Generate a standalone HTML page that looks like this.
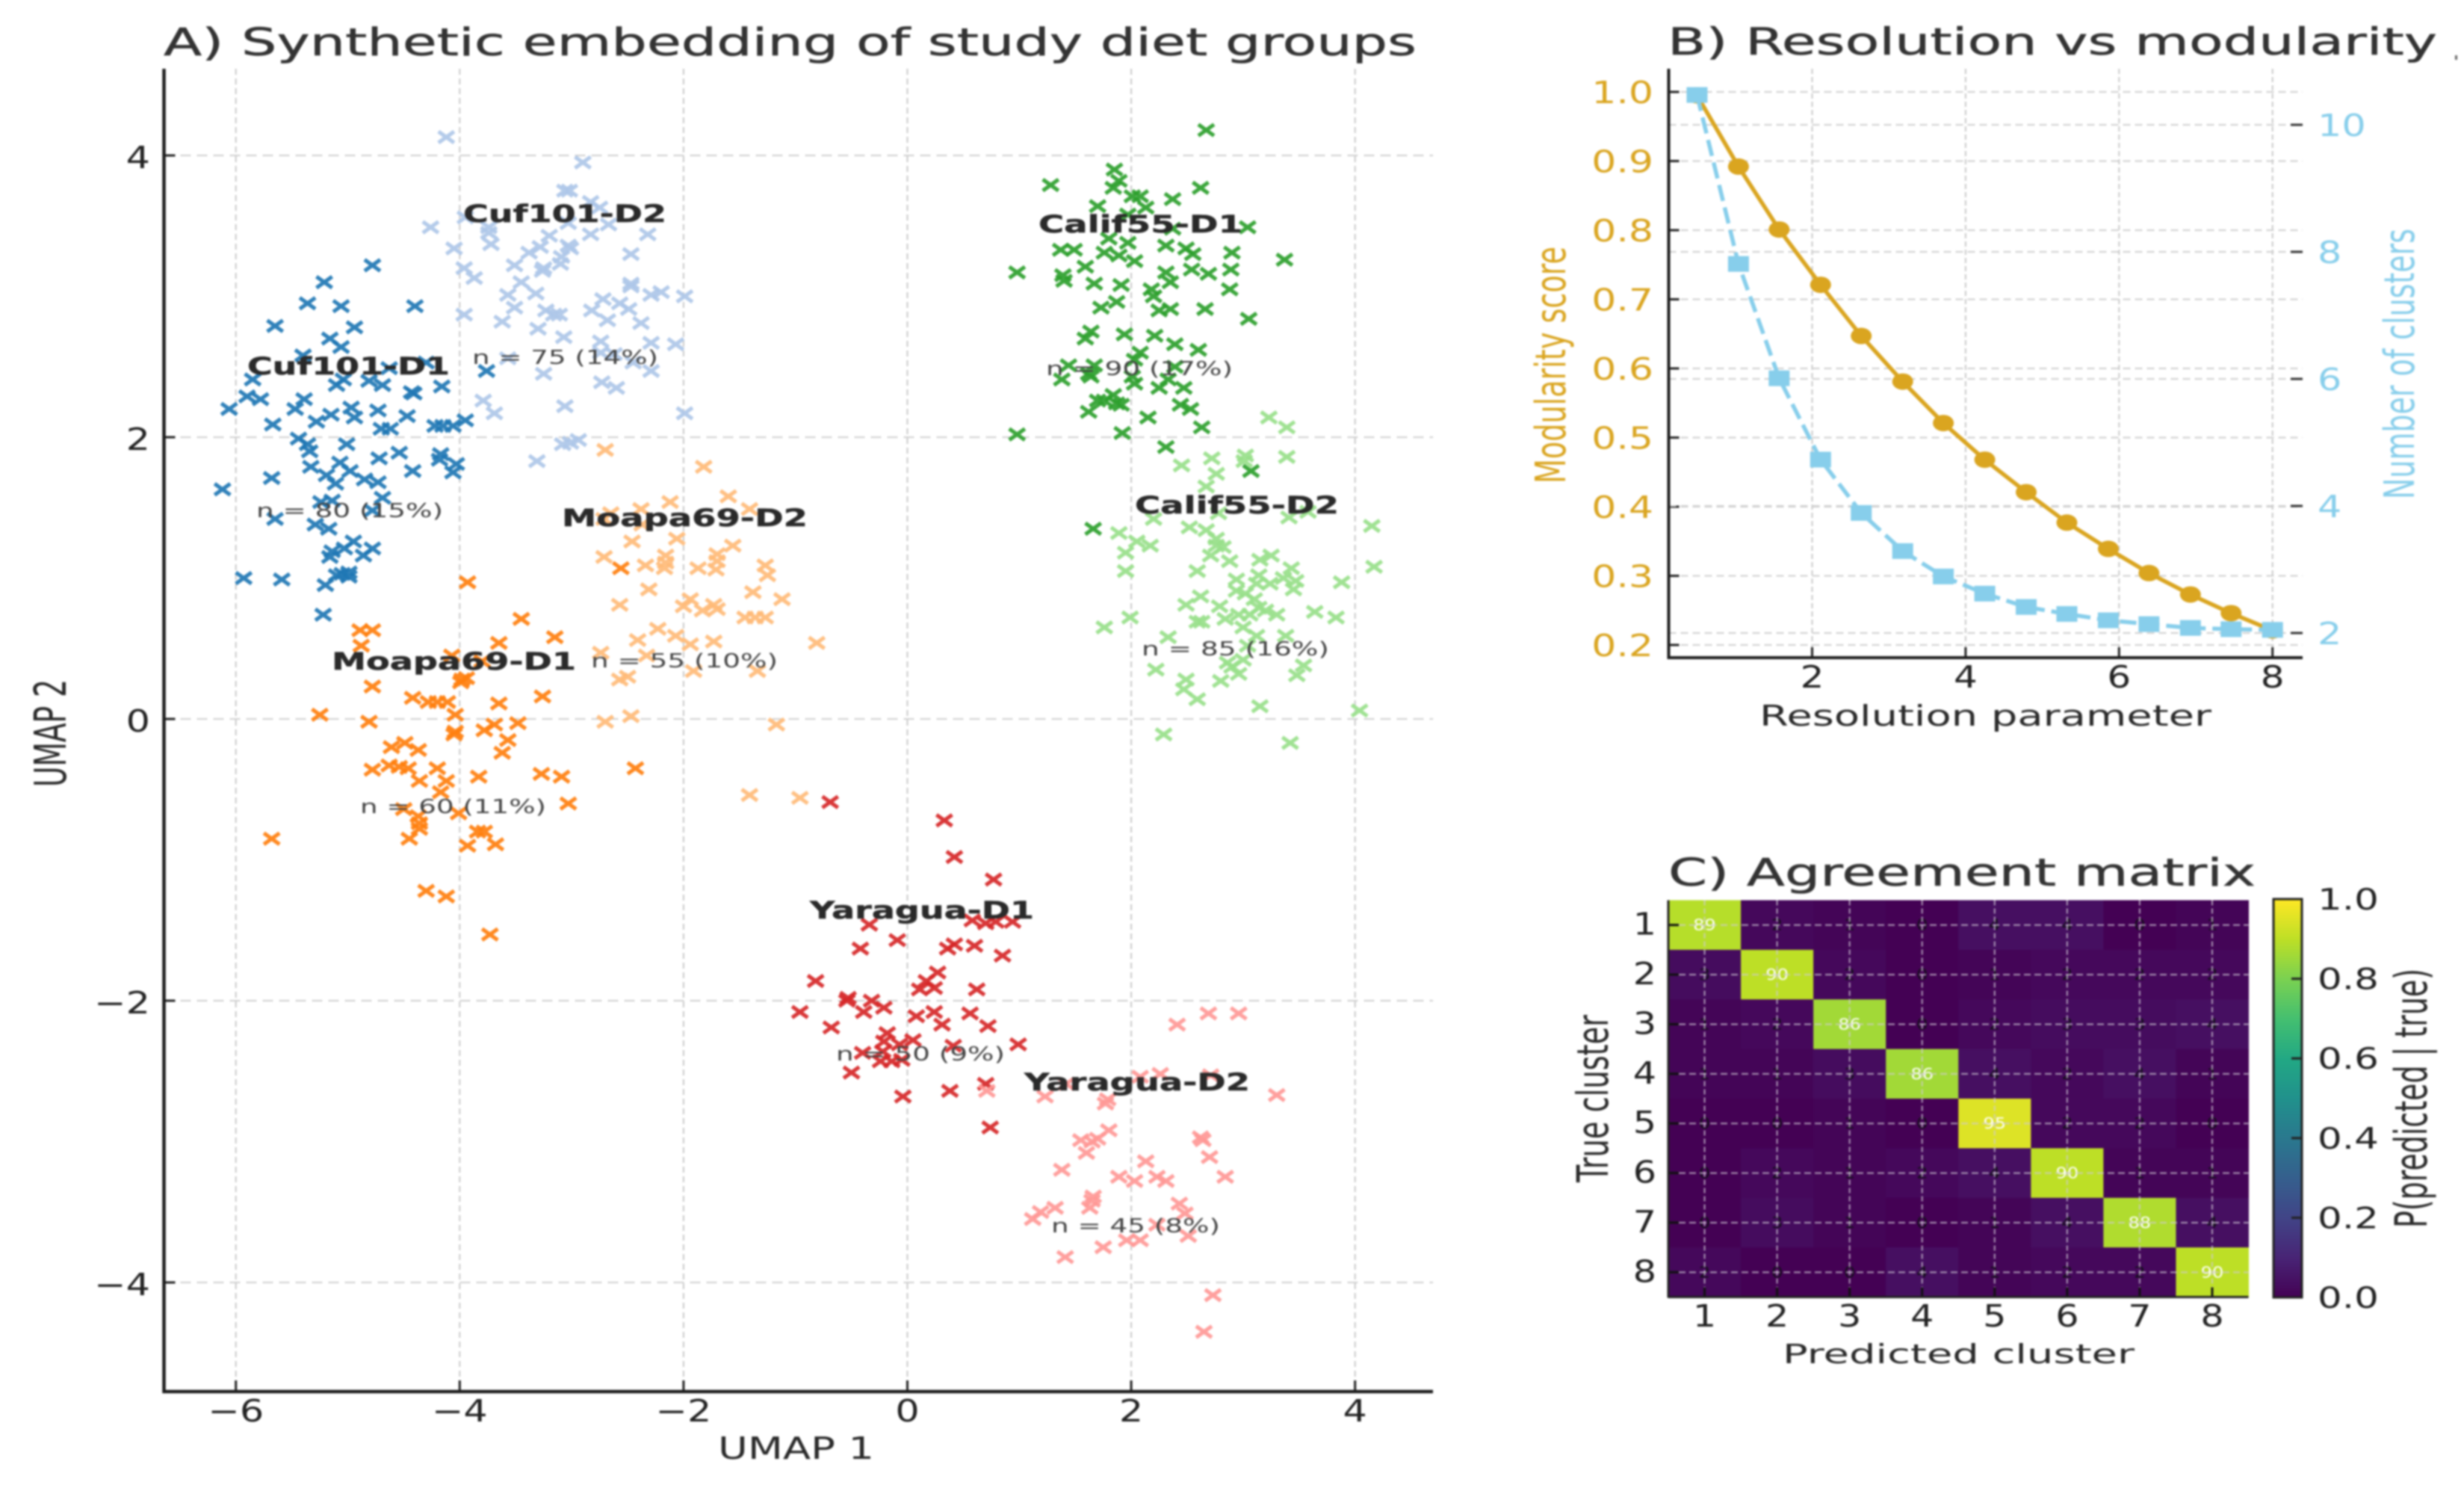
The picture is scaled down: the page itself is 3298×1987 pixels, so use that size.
<!DOCTYPE html>
<html lang="en">
<head>
<meta charset="utf-8">
<title>Synthetic embedding, modularity and agreement panels</title>
<style>
html,body{margin:0;padding:0;background:#fff;width:3298px;height:1987px;overflow:hidden}
svg{display:block;filter:blur(1.2px)}
text{font-family:"DejaVu Sans","Liberation Sans",sans-serif}
</style>
</head>
<body>
<svg id="figure" xmlns="http://www.w3.org/2000/svg" width="3298" height="1987" viewBox="0 0 3298 1987">
  <rect x="0" y="0" width="3298" height="1987" fill="#fff"/>

  <g id="panelA"></g>
  <g id="panelB"></g>
  <g id="panelC"></g>

  <text x="219" y="74" font-size="51" fill="#333" stroke="#333" stroke-width="0.5" textLength="1677" lengthAdjust="spacingAndGlyphs">A) Synthetic embedding of study diet groups</text>
  <text x="961" y="1952" font-size="41" fill="#2a2a2a" textLength="209" lengthAdjust="spacingAndGlyphs">UMAP 1</text>
  <text transform="translate(88,1053) rotate(-90)" font-size="59" fill="#2a2a2a" textLength="144" lengthAdjust="spacingAndGlyphs">UMAP 2</text>

  <g font-weight="700" font-size="32" fill="#2a2a2a" stroke="#2a2a2a" stroke-width="0.5">
    <text x="331" y="501" textLength="271" lengthAdjust="spacingAndGlyphs">Cuf101-D1</text>
    <text x="620" y="297" textLength="272" lengthAdjust="spacingAndGlyphs">Cuf101-D2</text>
    <text x="444" y="896" textLength="327" lengthAdjust="spacingAndGlyphs">Moapa69-D1</text>
    <text x="752" y="704" textLength="329" lengthAdjust="spacingAndGlyphs">Moapa69-D2</text>
    <text x="1390" y="311" textLength="273" lengthAdjust="spacingAndGlyphs">Calif55-D1</text>
    <text x="1519" y="687" textLength="273" lengthAdjust="spacingAndGlyphs">Calif55-D2</text>
    <text x="1084" y="1229" textLength="300" lengthAdjust="spacingAndGlyphs">Yaragua-D1</text>
    <text x="1371" y="1459" textLength="302" lengthAdjust="spacingAndGlyphs">Yaragua-D2</text>
  </g>
  <g font-size="26" fill="#444">
    <text x="343" y="692" textLength="250" lengthAdjust="spacingAndGlyphs">n = 80 (15%)</text>
    <text x="632" y="487" textLength="249" lengthAdjust="spacingAndGlyphs">n = 75 (14%)</text>
    <text x="482" y="1088" textLength="249" lengthAdjust="spacingAndGlyphs">n = 60 (11%)</text>
    <text x="791" y="893" textLength="250" lengthAdjust="spacingAndGlyphs">n = 55 (10%)</text>
    <text x="1400" y="502" textLength="250" lengthAdjust="spacingAndGlyphs">n = 90 (17%)</text>
    <text x="1528" y="877" textLength="251" lengthAdjust="spacingAndGlyphs">n = 85 (16%)</text>
    <text x="1119" y="1419" textLength="226" lengthAdjust="spacingAndGlyphs">n = 50 (9%)</text>
    <text x="1407" y="1649" textLength="226" lengthAdjust="spacingAndGlyphs">n = 45 (8%)</text>
  </g>

  <text x="2232" y="73" font-size="50" fill="#333" stroke="#333" stroke-width="0.5" textLength="1030" lengthAdjust="spacingAndGlyphs">B) Resolution vs modularity</text>
  <rect x="3286" y="74" width="3" height="6" fill="#666"/>
  <text x="2355" y="971" font-size="38" fill="#2a2a2a" textLength="605" lengthAdjust="spacingAndGlyphs">Resolution parameter</text>
  <text transform="translate(2095,647) rotate(-90)" font-size="56" fill="#DAA520" textLength="317" lengthAdjust="spacingAndGlyphs">Modularity score</text>
  <text transform="translate(3231,668) rotate(-90)" font-size="56" fill="#87CEEB" textLength="362" lengthAdjust="spacingAndGlyphs">Number of clusters</text>

  <text x="2233" y="1185" font-size="51" fill="#333" stroke="#333" stroke-width="0.5" textLength="786" lengthAdjust="spacingAndGlyphs">C) Agreement matrix</text>
  <text x="2386" y="1824" font-size="36" fill="#2a2a2a" textLength="471" lengthAdjust="spacingAndGlyphs">Predicted cluster</text>
  <text transform="translate(2152,1582) rotate(-90)" font-size="58" fill="#2a2a2a" textLength="224" lengthAdjust="spacingAndGlyphs">True cluster</text>
  <text transform="translate(3248,1643) rotate(-90)" font-size="60" fill="#2a2a2a" textLength="347" lengthAdjust="spacingAndGlyphs">P(predicted | true)</text>
</svg>

<script>
// ---------- Panel A data (UMAP 1, UMAP 2) ----------
const cuf101D1 = [[-4.78,3.22],[-5.21,3.10],[-5.36,2.95],[-5.06,2.93],[-4.40,2.93],[-5.65,2.79],[-4.94,2.78],[-5.16,2.70],[-5.06,2.64],[-5.40,2.58],[-4.30,2.53],[-5.85,2.41],[-5.04,2.41],[-5.10,2.37],[-4.81,2.40],[-4.69,2.37],[-4.63,2.49],[-4.43,2.32],[-4.41,2.31],[-4.16,2.36],[-3.76,2.47],[-5.90,2.29],[-5.78,2.27],[-6.06,2.20],[-5.39,2.27],[-5.47,2.20],[-4.97,2.21],[-4.73,2.19],[-5.15,2.16],[-4.94,2.14],[-4.47,2.15],[-5.28,2.11],[-5.67,2.09],[-3.95,2.12],[-4.22,2.08],[-4.15,2.08],[-4.06,2.08],[-4.70,2.06],[-4.62,2.06],[-5.44,1.99],[-5.36,1.95],[-5.01,1.95],[-5.34,1.90],[-4.54,1.89],[-4.17,1.88],[-4.18,1.84],[-4.72,1.85],[-5.33,1.79],[-5.07,1.82],[-4.03,1.81],[-4.98,1.76],[-4.42,1.76],[-4.06,1.75],[-5.19,1.73],[-4.85,1.70],[-5.68,1.71],[-4.73,1.68],[-5.11,1.67],[-6.12,1.63],[-4.69,1.57],[-5.24,1.54],[-5.14,1.55],[-4.78,1.48],[-5.65,1.42],[-5.29,1.38],[-5.17,1.35],[-4.95,1.26],[-4.78,1.21],[-5.14,1.19],[-5.03,1.21],[-5.16,1.15],[-4.86,1.16],[-5.10,1.02],[-4.99,1.04],[-4.99,1.01],[-5.05,1.03],[-5.93,1.00],[-5.59,0.99],[-5.20,0.95],[-5.22,0.74]];
const cuf101D2 = [[-4.12,4.13],[-2.90,3.95],[-3.02,3.75],[-3.06,3.75],[-2.83,3.67],[-2.75,3.63],[-4.26,3.49],[-3.95,3.56],[-3.03,3.52],[-2.67,3.51],[-3.74,3.49],[-3.74,3.45],[-3.72,3.37],[-2.83,3.44],[-3.20,3.43],[-2.32,3.44],[-3.03,3.36],[-3.28,3.35],[-3.38,3.31],[-3.09,3.28],[-2.47,3.30],[-4.05,3.34],[-3.51,3.22],[-3.10,3.23],[-3.26,3.18],[-3.96,3.20],[-3.87,3.13],[-3.45,3.10],[-2.47,3.07],[-3.57,3.01],[-3.32,3.02],[-2.72,2.98],[-2.29,3.01],[-2.20,3.03],[-1.99,3.00],[-3.96,2.87],[-3.51,2.92],[-2.57,2.95],[-2.49,2.91],[-2.82,2.90],[-3.23,2.90],[-3.11,2.87],[-3.62,2.82],[-2.68,2.83],[-2.38,2.81],[-3.30,2.77],[-3.07,2.71],[-2.74,2.68],[-2.29,2.67],[-2.07,2.66],[-2.74,2.60],[-2.62,2.59],[-3.57,2.56],[-2.45,2.53],[-3.25,2.45],[-2.29,2.47],[-2.73,2.39],[-2.60,2.35],[-3.79,2.26],[-3.69,2.17],[-3.06,2.22],[-1.99,2.17],[-3.08,1.95],[-2.94,1.98],[-3.01,1.96],[-3.31,1.83],[-3.01,3.34],[-3.25,3.20],[-2.47,3.09],[-3.16,2.87]];
const moapa69D1 = [[-3.93,0.97],[-3.45,0.71],[-4.89,0.63],[-4.78,0.63],[-3.15,0.58],[-4.88,0.52],[-3.65,0.54],[-4.07,0.45],[-3.80,0.41],[-3.98,0.28],[-3.99,0.26],[-3.94,0.29],[-4.78,0.23],[-4.42,0.15],[-3.26,0.16],[-4.28,0.12],[-4.20,0.12],[-4.11,0.12],[-3.65,0.11],[-4.04,0.03],[-5.25,0.03],[-4.81,-0.02],[-3.48,-0.03],[-3.69,-0.04],[-3.78,-0.08],[-4.04,-0.09],[-4.05,-0.11],[-3.57,-0.15],[-4.49,-0.17],[-4.61,-0.20],[-4.37,-0.22],[-3.62,-0.24],[-2.56,1.07],[-2.43,-0.35],[-4.63,-0.33],[-4.54,-0.34],[-4.46,-0.35],[-4.20,-0.35],[-4.78,-0.36],[-3.83,-0.41],[-4.36,-0.44],[-4.12,-0.44],[-3.27,-0.39],[-3.09,-0.41],[-4.17,-0.52],[-3.03,-0.60],[-4.01,-0.67],[-4.50,-0.64],[-4.37,-0.69],[-4.36,-0.74],[-4.36,-0.78],[-5.68,-0.85],[-4.45,-0.85],[-3.84,-0.80],[-3.78,-0.80],[-3.93,-0.90],[-3.68,-0.89],[-4.30,-1.22],[-4.12,-1.26],[-3.73,-1.53]];
const moapa69D2 = [[-2.70,1.91],[-1.82,1.79],[-1.60,1.58],[-2.12,1.54],[-2.38,1.49],[-2.65,1.46],[-1.41,1.49],[-2.71,1.42],[-2.37,1.38],[-2.46,1.26],[-2.06,1.28],[-1.56,1.23],[-1.70,1.17],[-2.71,1.15],[-2.16,1.16],[-2.34,1.09],[-2.16,1.11],[-2.17,1.07],[-1.87,1.07],[-1.71,1.06],[-1.70,1.12],[-1.27,1.09],[-1.25,1.02],[-2.31,0.92],[-1.38,0.90],[-1.12,0.85],[-2.57,0.81],[-1.94,0.85],[-2.00,0.80],[-1.83,0.77],[-1.73,0.81],[-1.70,0.78],[-1.45,0.72],[-1.36,0.72],[-1.27,0.72],[-2.23,0.64],[-2.41,0.56],[-2.07,0.59],[-1.94,0.53],[-1.73,0.55],[-0.81,0.54],[-2.74,0.47],[-2.33,0.45],[-1.91,0.34],[-1.34,0.34],[-2.50,0.30],[-2.57,0.28],[-2.70,-0.02],[-2.47,0.02],[-1.17,-0.04],[-1.41,-0.54],[-0.96,-0.56]];
const calif55D1 = [[2.67,4.18],[1.85,3.90],[1.89,3.82],[1.28,3.79],[1.84,3.77],[2.62,3.77],[2.37,3.69],[2.01,3.71],[2.08,3.71],[1.70,3.64],[2.13,3.63],[1.97,3.58],[3.04,3.49],[2.37,3.48],[1.80,3.41],[2.31,3.36],[1.97,3.38],[2.49,3.34],[2.55,3.30],[1.37,3.33],[1.49,3.33],[1.76,3.31],[1.89,3.29],[2.03,3.25],[2.90,3.31],[3.37,3.26],[0.98,3.17],[1.59,3.21],[2.31,3.17],[2.54,3.19],[2.89,3.19],[2.69,3.16],[1.39,3.15],[1.40,3.11],[1.67,3.09],[1.91,3.08],[2.35,3.10],[2.88,3.05],[2.18,3.05],[2.20,3.00],[1.73,2.92],[1.87,2.96],[2.25,2.90],[2.35,2.91],[2.66,2.91],[3.05,2.84],[1.64,2.75],[1.59,2.70],[1.94,2.73],[2.21,2.72],[2.39,2.66],[2.60,2.62],[2.08,2.60],[2.03,2.55],[1.44,2.51],[1.67,2.51],[1.62,2.45],[1.38,2.41],[2.39,2.50],[2.33,2.41],[2.03,2.38],[2.25,2.35],[2.47,2.35],[1.84,2.30],[1.70,2.26],[1.91,2.23],[2.44,2.23],[2.53,2.20],[1.62,2.18],[2.15,2.14],[2.63,2.07],[0.98,2.02],[1.92,2.03],[2.31,1.93],[3.07,1.76],[1.66,1.35],[2.01,2.43],[1.64,2.43],[1.76,2.26],[1.87,2.24]];
const calif55D2 = [[3.23,2.14],[3.39,2.07],[2.72,1.85],[3.02,1.87],[3.01,1.83],[3.39,1.86],[2.45,1.80],[2.76,1.74],[2.67,1.65],[3.58,1.47],[2.78,1.46],[3.41,1.43],[2.20,1.42],[4.15,1.37],[2.52,1.36],[2.67,1.34],[1.89,1.32],[2.05,1.26],[2.17,1.23],[2.76,1.23],[2.71,1.16],[1.95,1.18],[2.88,1.12],[3.15,1.13],[3.25,1.16],[4.17,1.08],[1.95,1.05],[2.59,1.05],[3.43,1.07],[3.14,1.02],[2.94,0.99],[3.36,1.00],[3.47,0.98],[3.88,0.97],[3.12,0.96],[3.24,0.96],[2.94,0.91],[3.45,0.92],[3.02,0.89],[2.62,0.87],[2.49,0.81],[3.10,0.85],[2.79,0.80],[3.14,0.79],[3.20,0.77],[3.06,0.74],[3.30,0.74],[3.64,0.76],[3.83,0.72],[1.99,0.72],[1.76,0.65],[2.59,0.69],[2.84,0.71],[3.00,0.65],[2.33,0.58],[3.12,0.59],[3.38,0.59],[3.04,0.52],[3.00,0.42],[2.86,0.40],[3.54,0.38],[2.22,0.35],[2.90,0.37],[2.96,0.32],[3.48,0.31],[2.49,0.28],[2.80,0.27],[2.47,0.21],[2.59,0.14],[3.15,0.09],[4.04,0.06],[2.29,-0.11],[3.42,-0.17],[2.63,0.69],[2.76,1.28],[2.82,1.22],[2.96,0.74]];
const yaraguaD1 = [[-0.69,-0.59],[0.33,-0.72],[0.42,-0.98],[0.77,-1.14],[-0.34,-1.46],[0.58,-1.43],[0.70,-1.45],[0.94,-1.44],[0.79,-1.44],[-0.09,-1.57],[-0.42,-1.63],[0.42,-1.60],[0.36,-1.63],[0.60,-1.61],[0.85,-1.68],[0.27,-1.80],[-0.82,-1.86],[0.17,-1.86],[0.11,-1.92],[0.24,-1.91],[0.62,-1.92],[-0.53,-1.98],[-0.54,-2.00],[-0.32,-2.00],[-0.21,-2.05],[-0.96,-2.08],[-0.39,-2.08],[0.08,-2.11],[0.24,-2.08],[0.56,-2.09],[0.31,-2.17],[0.72,-2.18],[-0.68,-2.19],[-0.18,-2.23],[0.05,-2.28],[-0.21,-2.29],[-0.07,-2.31],[-0.22,-2.36],[0.41,-2.32],[0.99,-2.31],[-0.40,-2.37],[-0.50,-2.51],[-0.24,-2.43],[-0.14,-2.43],[-0.05,-2.42],[0.70,-2.59],[0.38,-2.64],[-0.04,-2.68],[0.74,-2.90]];
const yaraguaD2 = [[2.69,-2.09],[2.96,-2.09],[2.41,-2.17],[2.08,-2.54],[2.26,-2.52],[2.71,-2.53],[1.42,-2.59],[0.71,-2.64],[1.23,-2.68],[3.30,-2.67],[1.79,-2.70],[1.77,-2.73],[1.80,-2.92],[1.70,-2.98],[1.55,-2.99],[1.65,-3.00],[1.60,-3.08],[2.62,-2.97],[2.64,-2.99],[2.70,-3.11],[1.38,-3.20],[2.13,-3.14],[1.89,-3.25],[2.03,-3.28],[2.23,-3.25],[2.31,-3.28],[2.84,-3.25],[1.66,-3.39],[1.65,-3.42],[1.63,-3.47],[2.43,-3.44],[1.32,-3.47],[1.19,-3.50],[1.12,-3.55],[2.48,-3.51],[2.23,-3.59],[2.51,-3.67],[1.96,-3.70],[2.08,-3.70],[1.75,-3.75],[1.41,-3.82],[2.73,-4.09],[2.65,-4.35]];
const groupNames = ['cuf101-d1','cuf101-d2','moapa69-d1','moapa69-d2','calif55-d1','calif55-d2','yaragua-d1','yaragua-d2'];
const groupPoints = [cuf101D1,cuf101D2,moapa69D1,moapa69D2,calif55D1,calif55D2,yaraguaD1,yaraguaD2];
const embedXTicks = [-6,-4,-2,0,2,4];
const embedYTicks = [4,2,0,-2,-4];

// ---------- Panel B data ----------
const resolution = [0.5,1.04,1.57,2.11,2.64,3.18,3.71,4.25,4.79,5.32,5.86,6.39,6.93,7.46,8.0];
const modularity = [0.995,0.892,0.801,0.721,0.647,0.581,0.521,0.468,0.421,0.377,0.339,0.304,0.273,0.246,0.221];
const clusterCount = [10.47,7.81,6.01,4.73,3.89,3.29,2.89,2.62,2.41,2.30,2.20,2.14,2.08,2.06,2.05];
const resolutionTicks = [2,4,6,8];
const modularityTicks = [0.2,0.3,0.4,0.5,0.6,0.7,0.8,0.9,1.0];
const clusterTicks = [2,4,6,8,10];

// ---------- Panel C data ----------
const matrixLabels = ['1','2','3','4','5','6','7','8'];
const agreementMatrix = [
  [89,2,1,0,4,4,0,1],
  [3,90,2,0,1,2,2,2],
  [1,2,86,0,2,3,3,4],
  [1,1,3,86,4,2,4,1],
  [0,0,1,0,95,2,2,0],
  [0,2,1,2,4,90,1,1],
  [0,3,1,0,1,4,88,4],
  [2,0,0,4,1,2,2,90]
];
const colorbarTicks = [0,0.2,0.4,0.6,0.8,1.0];

// ---------- helpers ----------
const NS = 'http://www.w3.org/2000/svg';
function make(parent, tag, attrs) {
  const el = document.createElementNS(NS, tag);
  for (const k in attrs) el.setAttribute(k, attrs[k]);
  parent.appendChild(el);
  return el;
}
function label(parent, x, y, str, size, fill, anchor, sx) {
  const el = make(parent, 'text', {transform:'translate(' + x + ',' + y + ') scale(' + sx + ',1)', 'font-size':size, fill:fill, 'text-anchor':anchor});
  el.textContent = str;
  return el;
}
const fmtMinus = v => String(v).replace('-', '\u2212');

// ---------- Panel A ----------
const panelA = document.getElementById('panelA');
const ax = v => 1214.5 + 149.8 * v;
const ay = v => 962 - 188.5 * v;
const aLeft = 219.5, aRight = 1918, aTop = 92, aBottom = 1862;
const groupColors = ['#1f77b4','#aec7e8','#ff7f0e','#ffbb78','#2ca02c','#98df8a','#d62728','#ff9896'];

embedXTicks.forEach(function (t) {
  const grid = make(panelA, 'line', {x1:ax(t), x2:ax(t), y1:aTop, y2:aBottom, stroke:'#c9c9c9', 'stroke-width':2, 'stroke-dasharray':'8 5'});
  
  
  const tick = make(panelA, 'line', {x1:ax(t), x2:ax(t), y1:aBottom-15, y2:aBottom, stroke:'#222', 'stroke-width':3});
  
  
  const tl = label(panelA, ax(t), 1902, fmtMinus(t), 41, '#222', 'middle', 1.24);
  
  
});
embedYTicks.forEach(function (t) {
  const grid = make(panelA, 'line', {x1:aLeft, x2:aRight, y1:ay(t), y2:ay(t), stroke:'#cfcfcf', 'stroke-width':2, 'stroke-dasharray':'14 8'});
  
  
  const tick = make(panelA, 'line', {x1:aLeft, x2:aLeft+15, y1:ay(t), y2:ay(t), stroke:'#222', 'stroke-width':3});
  
  
  const tl = label(panelA, 201, ay(t)+17, fmtMinus(t), 41, '#222', 'end', 1.24);
  
  
});
const aSpineL = make(panelA, 'line', {x1:aLeft, x2:aLeft, y1:aTop, y2:aBottom+2, stroke:'#1c1c1c', 'stroke-width':4.5});


const aSpineB = make(panelA, 'line', {x1:aLeft-2, x2:aRight, y1:aBottom, y2:aBottom, stroke:'#1c1c1c', 'stroke-width':4.5});



groupPoints.forEach(function (pts, g) {
  const layer = make(panelA, 'g', {stroke:groupColors[g], 'stroke-width':5.2, 'stroke-opacity':0.92, fill:'none'});
  
  
  pts.forEach(function (p) {
    const cx = ax(p[0]), cy = ay(p[1]);
    const hw = 10.5, hh = 7.5;
    const mark = make(layer, 'path', {d:'M' + (cx-hw) + ' ' + (cy-hh) + 'L' + (cx+hw) + ' ' + (cy+hh) + 'M' + (cx-hw) + ' ' + (cy+hh) + 'L' + (cx+hw) + ' ' + (cy-hh)});
    
    
  });
});

// ---------- Panel B ----------
const panelB = document.getElementById('panelB');
const bx = v => 2220.1 + 102.7 * v;
const byL = v => 863 - 925 * (v - 0.2);
const byR = v => 847 - 85 * (v - 2);
const bLeft = 2233.5, bRight = 3082, bTop = 92, bBottom = 880;
const gold = '#DAA520', sky = '#87CEEB';

resolutionTicks.forEach(function (t) {
  const grid = make(panelB, 'line', {x1:bx(t), x2:bx(t), y1:bTop, y2:bBottom, stroke:'#c9c9c9', 'stroke-width':2, 'stroke-dasharray':'7 4'});
  
  
  const tick = make(panelB, 'line', {x1:bx(t), x2:bx(t), y1:bBottom-14, y2:bBottom, stroke:'#222', 'stroke-width':3});
  
  
  const tl = label(panelB, bx(t), 920, String(t), 41, '#222', 'middle', 1.22);
  
  
});
modularityTicks.forEach(function (t) {
  const grid = make(panelB, 'line', {x1:bLeft, x2:bRight, y1:byL(t), y2:byL(t), stroke:'#cfcfcf', 'stroke-width':2, 'stroke-dasharray':'10 6'});
  
  
  const tick = make(panelB, 'line', {x1:bLeft, x2:bLeft+14, y1:byL(t), y2:byL(t), stroke:'#222', 'stroke-width':3});
  
  
  const tl = label(panelB, 2213, byL(t)+15, t.toFixed(1), 41, gold, 'end', 1.27);
  
  
});
clusterTicks.forEach(function (t) {
  const grid = make(panelB, 'line', {x1:bLeft, x2:bRight, y1:byR(t), y2:byR(t), stroke:'#cfcfcf', 'stroke-width':2, 'stroke-dasharray':'10 6'});
  
  
  const tick = make(panelB, 'line', {x1:bRight-16, x2:bRight, y1:byR(t), y2:byR(t), stroke:'#333', 'stroke-width':3});
  
  
  const tl = label(panelB, 3102, byR(t)+15, String(t), 41, sky, 'start', 1.24);
  
  
});
const bSpineL = make(panelB, 'line', {x1:bLeft, x2:bLeft, y1:bTop, y2:bBottom+2, stroke:'#1c1c1c', 'stroke-width':4});


const bSpineB = make(panelB, 'line', {x1:bLeft-2, x2:bRight, y1:bBottom, y2:bBottom, stroke:'#1c1c1c', 'stroke-width':4});



const modLine = make(panelB, 'polyline', {points:resolution.map((r,i) => bx(r) + ',' + byL(modularity[i])).join(' '), fill:'none', stroke:gold, 'stroke-width':5.5});


resolution.forEach(function (r, i) {
  const dot = make(panelB, 'ellipse', {cx:bx(r), cy:byL(modularity[i]), rx:14, ry:11, fill:gold});
  
  
});
const cntLine = make(panelB, 'polyline', {points:resolution.map((r,i) => bx(r) + ',' + byR(clusterCount[i])).join(' '), fill:'none', stroke:sky, 'stroke-width':5.5, 'stroke-dasharray':'22 9'});


resolution.forEach(function (r, i) {
  const sq = make(panelB, 'rect', {x:bx(r)-14, y:byR(clusterCount[i])-10.5, width:28, height:21, fill:sky});
  
  
});

// ---------- Panel C ----------
const panelC = document.getElementById('panelC');
const hLeft = 2233, hRight = 3009.5, hTop = 1204.5, hBottom = 1735.5;
const cw = (hRight - hLeft) / matrixLabels.length, ch = (hBottom - hTop) / matrixLabels.length;
const viridisStops = ['#440154','#482475','#414487','#355f8d','#2a788e','#21918c','#22a884','#44bf70','#7ad151','#bddf26','#fde725'];
function hex(c) { return [1,3,5].map(i => parseInt(c.substr(i,2),16)); }
function viridis(v) {
  const t = Math.max(0, Math.min(1, v)) * (viridisStops.length - 1);
  const i = Math.min(Math.floor(t), viridisStops.length - 2), f = t - i;
  const a = hex(viridisStops[i]), b = hex(viridisStops[i+1]);
  return 'rgb(' + a.map((x,k) => Math.round(x + (b[k]-x)*f)).join(',') + ')';
}
const cellX = j => hLeft + cw * j;
const cellY = i => hTop + ch * i;

agreementMatrix.forEach(function (row, i) {
  row.forEach(function (val, j) {
    const cell = make(panelC, 'rect', {x:cellX(j), y:cellY(i), width:cw+0.5, height:ch+0.5, fill:viridis(val/100)});
    
    
  });
});
agreementMatrix.forEach(function (row, i) {
  row.forEach(function (val, j) {
    const t = label(panelC, cellX(j)+cw/2, cellY(i)+ch/2+7, String(val), 20, val > 50 ? '#fff' : '#15101c', 'middle', 1.2);
    
    
  });
});
matrixLabels.forEach(function (lab, k) {
  const vx = cellX(k)+cw/2, hy = cellY(k)+ch/2;
  const gv = make(panelC, 'line', {x1:vx, x2:vx, y1:hTop, y2:hBottom, stroke:'#cfc9d4', 'stroke-opacity':0.75, 'stroke-width':2, 'stroke-dasharray':'7 4'});
  
  
  const gh = make(panelC, 'line', {x1:hLeft, x2:hRight, y1:hy, y2:hy, stroke:'#cfc9d4', 'stroke-opacity':0.75, 'stroke-width':2, 'stroke-dasharray':'9 5'});
  
  
  const tx = make(panelC, 'line', {x1:vx, x2:vx, y1:hBottom-13, y2:hBottom, stroke:'#111', 'stroke-width':3});
  
  
  const ty = make(panelC, 'line', {x1:hLeft, x2:hLeft+14, y1:hy, y2:hy, stroke:'#111', 'stroke-width':3});
  
  
  const lx = label(panelC, vx, 1775, lab, 41, '#222', 'middle', 1.2);
  
  
  const ly = label(panelC, 2217, hy+13, lab, 41, '#222', 'end', 1.2);
  
  
});
const hSpineL = make(panelC, 'line', {x1:hLeft, x2:hLeft, y1:hTop, y2:hBottom+1, stroke:'#222', 'stroke-width':3});


const hSpineB = make(panelC, 'line', {x1:hLeft, x2:hRight, y1:hBottom, y2:hBottom, stroke:'#222', 'stroke-width':3});



// colorbar
const cbLeft = 3043, cbRight = 3081, cbTop = 1203, cbBottom = 1736;
const cby = v => cbBottom - (cbBottom - cbTop) * v;
const barSteps = 128;
const cbGroup = make(panelC, 'g', {});


for (let s = 0; s < barSteps; s++) {
  const v0 = s / barSteps, v1 = (s + 1) / barSteps;
  const seg = make(cbGroup, 'rect', {x:cbLeft, y:cby(v1), width:cbRight-cbLeft, height:cby(v0)-cby(v1)+0.6, fill:viridis((v0+v1)/2)});
  
  
}
const cbFrame = make(panelC, 'rect', {x:cbLeft, y:cbTop, width:cbRight-cbLeft, height:cbBottom-cbTop, fill:'none', stroke:'#222', 'stroke-width':3});


colorbarTicks.forEach(function (t) {
  const tick = make(panelC, 'line', {x1:cbRight-14, x2:cbRight, y1:cby(t), y2:cby(t), stroke:'#222', 'stroke-width':3});
  
  
  const tl = label(panelC, 3102, cby(t)+14, t.toFixed(1), 39, '#222', 'start', 1.32);
  
  
});

// keep axis titles and cluster labels above the drawn marks
const svgRoot = document.getElementById('figure');
[panelC, panelB, panelA].forEach(function (p) { svgRoot.insertBefore(p, svgRoot.children[1]); });
</script>
</body>
</html>
